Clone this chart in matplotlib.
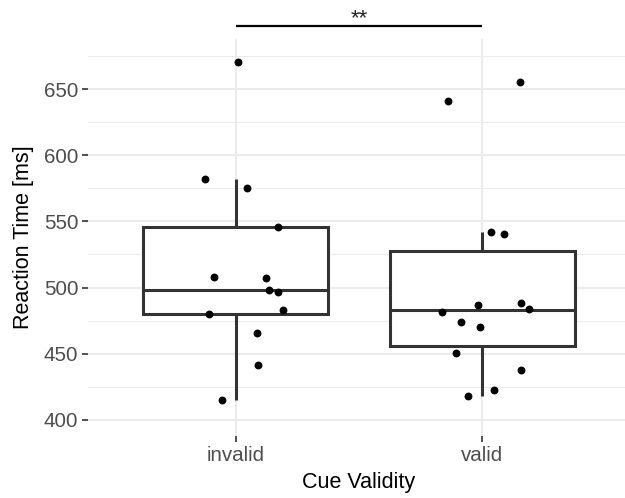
import numpy as np
import matplotlib
matplotlib.use("Agg")
import matplotlib.pyplot as plt

# --------------------------------------------------------------------------
# Data (reaction times per participant, ms)
# --------------------------------------------------------------------------
categories = ["invalid", "valid"]

invalid_rt = [670.4, 582.2, 575.6, 546.1, 508.0, 507.5, 498.0,
              496.5, 483.0, 479.8, 465.4, 441.4, 415.0]
invalid_jitter = [0.010, -0.126, 0.047, 0.171, -0.087, 0.124, 0.134,
                  0.173, 0.191, -0.107, 0.087, 0.092, -0.058]

valid_rt = [641.4, 655.3, 541.8, 540.5, 481.8, 486.6, 488.1,
            483.6, 474.0, 470.4, 450.5, 437.9, 422.3, 418.2]
valid_jitter = [-0.139, 0.153, 0.037, 0.090, -0.162, -0.016, 0.157,
                0.189, -0.086, -0.010, -0.108, 0.158, 0.048, -0.057]

y_ticks = [400, 450, 500, 550, 600, 650]
y_minor = [425, 475, 525, 575, 625, 675]
sig_label = "**"
sig_y = 698

plt.rcParams["font.family"] = ["Liberation Sans", "DejaVu Sans"]

GRID = "#EBEBEB"
DARK = "#333333"

fig = plt.figure(figsize=(6.25, 4.98), dpi=100)
ax = fig.add_axes([0.1408, 0.1245, 0.8672, 0.7972])

# grid (theme_minimal look)
for v in y_minor:
    ax.axhline(v, color=GRID, lw=0.75, zorder=0)
for v in y_ticks:
    ax.axhline(v, color=GRID, lw=1.45, zorder=0)
for i in range(len(categories)):
    ax.axvline(i + 1, color=GRID, lw=1.45, zorder=0)

# boxes
bp = ax.boxplot([invalid_rt, valid_rt], positions=[1, 2], widths=0.75,
                whis=1.5, showfliers=False, showcaps=False,
                patch_artist=True, zorder=2)
for b in bp["boxes"]:
    b.set_facecolor("white")
    b.set_edgecolor(DARK)
    b.set_linewidth(2.2)
for part in ("whiskers", "medians"):
    for ln in bp[part]:
        ln.set_color(DARK)
        ln.set_linewidth(2.2)
        ln.set_solid_capstyle("butt")

# jittered points
for i, (rt, jit) in enumerate([(invalid_rt, invalid_jitter),
                               (valid_rt, valid_jitter)]):
    xs = np.array(jit) + i + 1
    ax.scatter(xs, rt, s=32, color="black", zorder=3, linewidths=0)

# significance bracket
ax.plot([1, 2], [sig_y, sig_y], color="black", lw=1.6, clip_on=False,
        solid_capstyle="butt")
ax.text(1.5, sig_y + 1.5, sig_label, ha="center", va="baseline",
        fontsize=16, color="#222222", clip_on=False)

ax.set_xlim(0.4, 2.6)
ax.set_ylim(387.7, 688.0)
ax.set_xticks([1, 2])
ax.set_xticklabels(categories)
ax.set_yticks(y_ticks)
ax.tick_params(axis="both", colors=DARK, labelcolor="#4D4D4D",
               labelsize=14.8, length=4.5, width=1.2, pad=2.5)
for s in ax.spines.values():
    s.set_visible(False)

ax.set_xlabel("Cue Validity", fontsize=15.5, color="black", labelpad=5)
ax.set_ylabel("Reaction Time [ms]", fontsize=15.5, color="black", labelpad=7)

fig.savefig("out.png", dpi=100)
